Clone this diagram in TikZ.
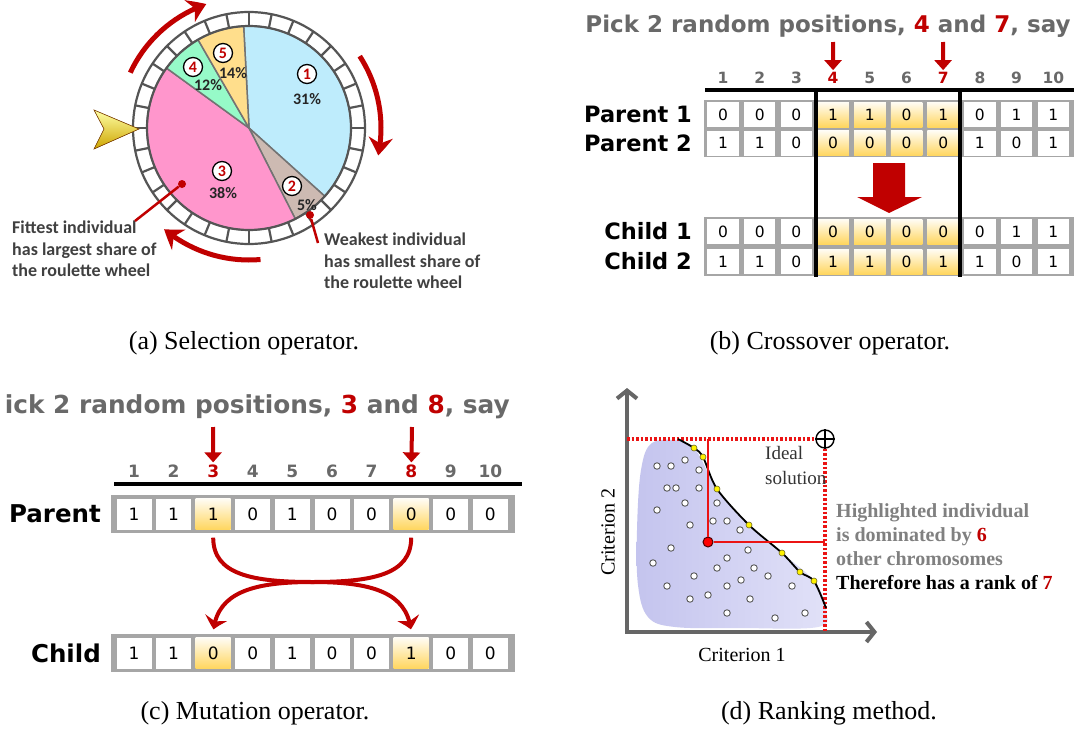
\documentclass[tikz,border=0pt]{standalone}
\usepackage{fontspec}
\setmainfont{Liberation Serif}
\newfontfamily\verd{DejaVu Sans}
\newfontfamily\cali{Carlito}
\usetikzlibrary{arrows.meta,bending}
\definecolor{dred}{RGB}{192,0,0}
\definecolor{hired}{RGB}{235,20,20}
\definecolor{ringgray}{RGB}{85,85,85}
\definecolor{cellgray}{RGB}{166,166,166}
\definecolor{gold}{RGB}{255,214,95}
\definecolor{txtgray}{RGB}{105,105,105}
\definecolor{sl1}{RGB}{190,236,252}
\definecolor{sl2}{RGB}{205,186,178}
\definecolor{sl3}{RGB}{255,150,204}
\definecolor{sl4}{RGB}{150,250,200}
\definecolor{sl5}{RGB}{255,222,140}
\definecolor{blobdark}{RGB}{196,196,238}
\definecolor{bloblite}{RGB}{226,226,248}

\tikzset{
  numc/.style={circle, draw=black, line width=1.3pt, fill=white, inner sep=0pt, minimum size=19pt, text=dred, font=\cali\bfseries\fontsize{16}{16}\selectfont},
  pct/.style={inner sep=0pt, text=black!85, font=\cali\bfseries\fontsize{16}{16}\selectfont},
  spin/.style={dred, line width=5pt, -{Stealth[length=18pt,width=24pt,bend]}},
  note/.style={align=left, inner sep=0pt, anchor=north west, text=black!75, font=\cali\bfseries\fontsize{18}{21.5}\selectfont},
  tipdot/.style={circle, fill=dred, inner sep=0pt, minimum size=8pt},
  cell/.style={fill=white, inner sep=0pt, minimum width=31.5pt, minimum height=25pt, font=\verd\fontsize{15.5}{15.5}\selectfont},
  hot/.style={cell, top color=gold!6!white, bottom color=gold},
  bigcell/.style={cell, minimum width=35pt, minimum height=31pt, font=\verd\fontsize{17}{17}\selectfont},
  bighot/.style={bigcell, top color=gold!6!white, bottom color=gold},
  colno/.style={text=txtgray, inner sep=2pt, font=\verd\bfseries\fontsize{15.5}{15.5}\selectfont},
  rowlab/.style={anchor=east, inner sep=0pt, font=\verd\bfseries\fontsize{22.5}{22.5}\selectfont},
  headline/.style={text=txtgray, inner sep=0pt, font=\verd\bfseries\fontsize{23}{23}\selectfont},
  pick/.style={dred, line width=4pt, -{Triangle[length=10pt,width=17pt]}},
  swapline/.style={dred, line width=4pt, shorten <=8pt, shorten >=8pt, -{Stealth[length=13pt,width=22pt,bend]}},
  critaxis/.style={black!60, line width=4pt, line join=miter, {Straight Barb[length=8pt,width=20pt]}-{Straight Barb[length=8pt,width=20pt]}},
  reddot/.style={hired, line width=3.5pt, dash pattern=on 2.5pt off 2pt},
  pop/.style={circle, draw=black!65, fill=white, line width=0.9pt, inner sep=0pt, minimum size=6.5pt},
  front/.style={circle, draw=olive!70!black, fill=yellow, line width=0.6pt, inner sep=0pt, minimum size=6pt},
  hdot/.style={circle, draw=black!70!red, fill=red, line width=1pt, inner sep=0pt, minimum size=10pt},
  crit/.style={inner sep=0pt, font=\fontsize{20}{20}\selectfont},
  expl/.style={anchor=base west, inner sep=0pt, font=\bfseries\fontsize{20}{20}\selectfont},
  subcap/.style={anchor=base, inner sep=0pt, font=\fontsize{26}{26}\selectfont}
}

\begin{document}
\begin{tikzpicture}[x=1pt, y=-1pt]
\useasboundingbox (0,0) rectangle (1074,731);
\fill[white] (0,0) rectangle (1074,731);

% (a) roulette wheel
\begin{scope}[shift={(249,128)}, y=1pt]
  \draw[ringgray, line width=2.2pt, fill=white] (0,0) circle (116);
  \foreach \a in {0,11.25,...,349}
    \draw[ringgray, line width=2.2pt] (\a:102) -- (\a:116);
  \foreach \s/\e/\c in {93/-42/sl1, -42/-63/sl2, -63/-216/sl3, 144/120/sl4, 120/93/sl5}
    \filldraw[fill=\c, draw=black!55, line width=1.5pt] (0,0) -- (\s:102) arc[start angle=\s, end angle=\e, radius=102] -- cycle;
  \draw[ringgray, line width=2.2pt] (0,0) circle (102);
  \draw[spin] (155:131) arc[start angle=155, end angle=109, radius=131];
  \draw[spin] (33:132) arc[start angle=33, end angle=-12, radius=132];
  \draw[spin] (-85:132) arc[start angle=-85, end angle=-130, radius=132];
\end{scope}
\filldraw[top color=yellow!35!white, bottom color={rgb,255:red,205;green,165;blue,0}, draw=orange!50!black, line width=0.6pt]
  (94,110) -- (139,129) -- (94,149) -- (104,129) -- cycle;
\node[numc] (s1) at (307,74) {1};
\node[pct] (p1) at (307,99) {31\%};
\node[numc] (s5) at (223,53) {5};
\node[pct] (p5) at (233,73) {14\%};
\node[numc] (s4) at (193,67) {4};
\node[pct] (p4) at (208,85) {12\%};
\node[numc] (s3) at (222,171) {3};
\node[pct] (p3) at (223,193) {38\%};
\node[numc] (s2) at (292,186) {2};
\node[pct] (p2) at (307,205) {5\%};
\node[note] (fit) at (12,221) {Fittest individual\\has largest share of\\the roulette wheel};
\node[note] (weak) at (324,233) {Weakest individual\\has smallest share of\\the roulette wheel};
\node[tipdot] (dfit) at (182,184) {};
\coordinate (efit) at (135,221);
\draw[dred, line width=2.5pt] (dfit) -- (efit);
\node[tipdot] (dweak) at (310,215) {};
\coordinate (eweak) at (318,243);
\draw[dred, line width=2.5pt] (dweak) -- (eweak);
\node[subcap] (capa) at (244,349) {(a) Selection operator.};

% (b) crossover
\node[headline, anchor=base] (tb) at (828,32) {Pick 2 random positions, \textcolor{dred}{4} and \textcolor{dred}{7}, say};
\foreach \i in {1,...,10}{
  \pgfmathtruncatemacro\hl{or(\i==4,\i==7)}
  \node[colno] (nb\i) at ({723+(\i-1)*36.7},78) {\ifnum\hl=1 \color{dred}\fi\i};
}
\fill[cellgray] (704,100) rectangle (1074,157);
\fill[cellgray] (704,217) rectangle (1074,276);
\foreach \r/\y/\bits in {pa/114.5/{0,0,0,1,1,0,1,0,1,1}, pb/143/{1,1,0,0,0,0,0,1,0,1}, ca/231.5/{0,0,0,0,0,0,0,0,1,1}, cb/261.5/{1,1,0,1,1,0,1,1,0,1}}
  \foreach \d [count=\i] in \bits {
    \pgfmathtruncatemacro\hl{and(\i>3,\i<8)}
    \ifnum\hl=1 \tikzset{cur/.style=hot}\else\tikzset{cur/.style=cell}\fi
    \node[cur] (\r\i) at ({723+(\i-1)*36.7},\y) {\d};
  }
\node[rowlab] (lpa) at (692,114.5) {Parent 1};
\node[rowlab] (lpb) at (692,143) {Parent 2};
\node[rowlab] (lca) at (692,231.5) {Child 1};
\node[rowlab] (lcb) at (692,261.5) {Child 2};
\draw[line width=4pt] (705,90) -- (1074,90);
\draw[line width=4pt] (816,88) -- (816,277);
\draw[line width=4pt] (960,88) -- (960,277);
\coordinate (ab4) at (833,42);
\coordinate (ab7) at (943,42);
\draw[pick] (ab4) -- (nb4);
\draw[pick] (ab7) -- (nb7);
\fill[dred] (873,163) -- (905,163) -- (905,197) -- (922,197) -- (889,213) -- (857,197) -- (873,197) -- cycle;
\node[subcap] (capb) at (830,349) {(b) Crossover operator.};

% (c) mutation
\node[headline, anchor=base east, font=\verd\bfseries\fontsize{24.8}{24.8}\selectfont] (tc) at (510,413) {ick 2 random positions, \textcolor{dred}{3} and \textcolor{dred}{8}, say};
\foreach \i in {1,...,10}{
  \pgfmathtruncatemacro\hl{or(\i==3,\i==8)}
  \node[colno, font=\verd\bfseries\fontsize{17}{17}\selectfont] (nc\i) at ({134+(\i-1)*39.6},471) {\ifnum\hl=1 \color{dred}\fi\i};
}
\draw[line width=3.5pt] (114,484) -- (522,484);
\fill[cellgray] (111,495) rectangle (515,533);
\fill[cellgray] (111,634) rectangle (515,672);
\foreach \r/\y/\bits in {pm/514/{1,1,1,0,1,0,0,0,0,0}, cm/653/{1,1,0,0,1,0,0,1,0,0}}
  \foreach \d [count=\i] in \bits {
    \pgfmathtruncatemacro\hl{or(\i==3,\i==8)}
    \ifnum\hl=1 \tikzset{cur/.style=bighot}\else\tikzset{cur/.style=bigcell}\fi
    \node[cur] (\r\i) at ({134+(\i-1)*39.6},\y) {\d};
  }
\node[rowlab, font=\verd\bfseries\fontsize{24.5}{24.5}\selectfont] (lpm) at (101,514) {Parent};
\node[rowlab, font=\verd\bfseries\fontsize{24.5}{24.5}\selectfont] (lcm) at (101,653) {Child};
\coordinate (ac3) at (213,427);
\coordinate (ac8) at (412,427);
\draw[pick] (ac3) -- (nc3);
\draw[pick] (ac8) -- (nc8);
\coordinate (mid) at (312.5,582);
\draw[swapline] (pm3.south) .. controls +(0,45) and +(-60,0) .. (mid) .. controls +(60,0) and +(0,-45) .. (cm8.north);
\draw[swapline] (pm8.south) .. controls +(0,45) and +(60,0) .. (mid) .. controls +(-60,0) and +(0,-45) .. (cm3.north);
\node[subcap] (capc) at (255,719) {(c) Mutation operator.};

% (d) ranking
\shade[left color=blobdark, right color=bloblite] plot[smooth cycle, tension=0.6] coordinates {(652,443) (641,470) (637,530) (638,585) (648,617) (675,627) (740,628) (818,627) (826,610) (815,582) (782,553) (750,526) (717,489) (697,452) (680,441)};
\coordinate (ytip) at (627,388);
\coordinate (xtip) at (877,632);
\draw[critaxis] (ytip) |- (xtip);
\coordinate (ylev) at (627,439);
\coordinate (xlev) at (825,632);
\node[circle, draw=black, fill=white, line width=1.4pt, inner sep=0pt, minimum size=18pt] (ideal) at (825,439) {};
\draw[reddot] (ylev) -- (ideal);
\draw[reddot] (ideal) -- (xlev);
\draw[black, line width=1.4pt] (ideal.north) -- (ideal.south) (ideal.west) -- (ideal.east);
\foreach \p in {(657,466),(671,466),(685,460),(699,470),(667,488),(676,488),(699,488),(657,510),(685,503),(717,503),(690,525),(713,521),(727,521),(740,530),(671,548),(653,563),(748,550),(727,558),(717,568),(754,568),(768,576),(694,576),(667,586),(741,580),(727,586),(792,586),(708,595),(690,599),(750,599),(727,613),(775,618),(805,613)}
  \node[pop] at \p {};
\draw[line width=1.8pt] plot[smooth, tension=0.5] coordinates {(678,439) (694,448) (703,457) (717,489) (749,525) (782,553) (800,572) (814,581) (826,608)};
\foreach \p [count=\k] in {(694,448),(703,457),(717,489),(749,525),(782,553),(800,572),(814,581)}
  \node[front] (f\k) at \p {};
\node[hdot] (hi) at (708,542) {};
\coordinate (hitop) at (708,439);
\coordinate (hiright) at (825,542);
\draw[hired, line width=2.8pt] (hi) -- (hitop);
\draw[hired, line width=2.8pt] (hi) -- (hiright);
\node[anchor=base west, inner sep=0pt, text=black!80, font=\fontsize{19}{19}\selectfont] (idl) at (765,459) {Ideal};
\node[anchor=base west, inner sep=0pt, text=black!80, font=\fontsize{19}{19}\selectfont] (sol) at (765,484) {solution};
\node[expl, text=black!50] (e1) at (836,517) {Highlighted individual};
\node[expl, text=black!50] (e2) at (836,541) {is dominated by \textcolor{dred}{6}};
\node[expl, text=black!50] (e3) at (836,565) {other chromosomes};
\node[expl, text=black] (e4) at (836,589) {Therefore has a rank of \textcolor{dred}{7}};
\node[crit] (c1) at (742,655) {Criterion 1};
\node[crit, rotate=90] (c2) at (608,532) {Criterion 2};
\node[subcap] (capd) at (829,719) {(d) Ranking method.};
\end{tikzpicture}
\end{document}
